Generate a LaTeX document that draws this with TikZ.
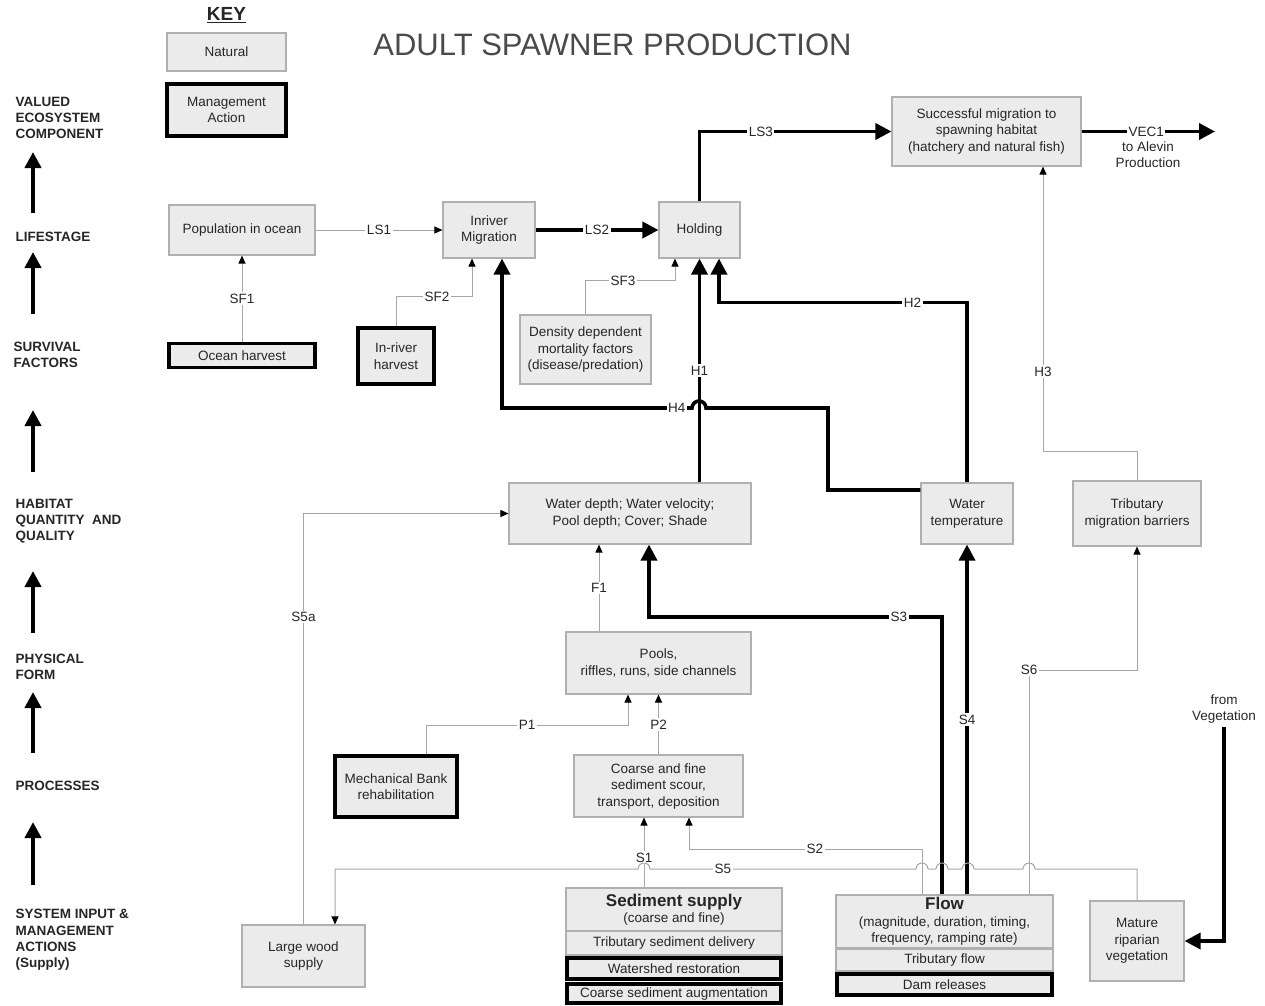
\documentclass[tikz,border=0pt]{standalone}
\usepackage{fontspec}
\setmainfont{Liberation Sans}
\usetikzlibrary{arrows.meta,calc}

\definecolor{boxfill}{HTML}{EBEBEB}
\definecolor{boxline}{HTML}{B0B0B0}
\definecolor{wiregray}{HTML}{A6A6A6}
\definecolor{ink}{HTML}{262626}
\definecolor{titleink}{HTML}{4A4A4A}
\newcommand{\boxfont}{\fontsize{13.5}{16.5}\selectfont}

\tikzset{
  box/.style={draw=boxline, fill=boxfill, line width=1.1pt, align=center,
              font=\boxfont, text=ink, inner sep=1pt},
  mbox/.style={box, draw=black, line width=3.2pt},
  linkthin/.style={draw=wiregray, line width=1pt,
                   -{Triangle[length=8pt,width=7pt,color=black]}},
  linkbold/.style={draw=black, line width=3.6pt,
                   -{Triangle[length=16pt,width=16pt]}},
  lbl/.style={fill=white, inner sep=1.5pt, font=\boxfont, text=ink},
  levelarrow/.style={draw=black, line width=4.2pt,
                     -{Triangle[length=16pt,width=16pt]}},
  levellbl/.style={anchor=west, align=left, text=ink,
                   font=\bfseries\fontsize{13.5}{16.3}\selectfont},
}

\begin{document}
\begin{tikzpicture}[x=1pt,y=-1pt]
\useasboundingbox (0,0) rectangle (1265,1005);

% ---------- title and key ----------
\node[font=\fontsize{31}{36}\selectfont, text=titleink] (title) at (612.5,45) {ADULT SPAWNER PRODUCTION};
\node[font=\bfseries\fontsize{19}{22}\selectfont, text=ink] (key) at (226.5,15) {\underline{KEY}};
\node[box, minimum width=119pt, minimum height=38pt] (keynat) at (226.5,52) {Natural};
\node[mbox, minimum width=119pt, minimum height=52pt] (keymgmt) at (226.5,110) {Management\\Action};

% ---------- level labels ----------
\node[levellbl] (lvvec)  at (12,118) {VALUED\\ECOSYSTEM\\COMPONENT};
\node[levellbl] (lvlife) at (12,237) {LIFESTAGE};
\node[levellbl] (lvsurv) at (10,355) {SURVIVAL\\FACTORS};
\node[levellbl] (lvhab)  at (12,521) {HABITAT\\QUANTITY~~AND\\QUALITY};
\node[levellbl] (lvphys) at (12,667) {PHYSICAL\\FORM};
\node[levellbl] (lvproc) at (12,786) {PROCESSES};
\node[levellbl] (lvsys)  at (12,940) {SYSTEM INPUT \&\\MANAGEMENT\\ACTIONS\\(Supply)};

\draw[levelarrow] (33,213) -- (33,152);
\draw[levelarrow] (33,314) -- (33,252);
\draw[levelarrow] (33,472) -- (33,410);
\draw[levelarrow] (33,633) -- (33,571);
\draw[levelarrow] (33,753) -- (33,692);
\draw[levelarrow] (33,885) -- (33,822);

% ---------- boxes ----------
\node[box,  minimum width=146pt, minimum height=50pt] (pop)    at (242,230)    {Population in ocean};
\node[mbox, minimum width=146pt, minimum height=24pt] (oharv)  at (242,355.5)  {Ocean harvest};
\node[box,  minimum width=92pt,  minimum height=56pt] (inriv)  at (489,230)    {Inriver\\Migration};
\node[mbox, minimum width=76pt,  minimum height=56pt] (irharv) at (396,356)    {In-river\\harvest};
\node[box,  minimum width=81pt,  minimum height=56pt] (hold)   at (699.5,230)  {Holding};
\node[box,  minimum width=131pt, minimum height=69pt] (dens)   at (585.5,349.5){Density dependent\\mortality factors\\(disease/predation)};
\node[box,  minimum width=189pt, minimum height=69pt] (succ)   at (986.5,131.5){Successful migration to\\spawning habitat\\(hatchery and natural fish)};
\node[box,  minimum width=242pt, minimum height=61pt] (wdepth) at (630,513.5)  {Water depth; Water velocity;\\Pool depth; Cover; Shade};
\node[box,  minimum width=92pt,  minimum height=61pt] (wtemp)  at (967,513.5)  {Water\\temperature};
\node[box,  minimum width=128pt, minimum height=65pt] (tribbar)at (1137,513.5) {Tributary\\migration barriers};
\node[box,  minimum width=185pt, minimum height=62pt] (pools)  at (658.5,663)  {Pools,\\riffles, runs, side channels};
\node[box,  minimum width=169pt, minimum height=62pt] (coarse) at (658.5,786)  {Coarse and fine\\sediment scour,\\transport, deposition};
\node[mbox, minimum width=122pt, minimum height=61pt] (mech)   at (396,786.5)  {Mechanical Bank\\rehabilitation};
\node[box,  minimum width=123pt, minimum height=62pt] (wood)   at (303.5,956)  {Large wood\\supply};
\node[box,  minimum width=94pt,  minimum height=80pt] (riparian) at (1137,941) {Mature\\riparian\\vegetation};

% sediment supply stack
\node[box,  minimum width=216pt, minimum height=43pt] (sedtop)    at (674,909.5)
  {{\bfseries\fontsize{17}{18}\selectfont Sediment supply}\\(coarse and fine)};
\node[box,  minimum width=216pt, minimum height=24pt] (sedtrib)   at (674,943)   {Tributary sediment delivery};
\node[mbox, minimum width=214pt, minimum height=21pt] (sedws)     at (674,968.5) {Watershed restoration};
\node[mbox, minimum width=214pt, minimum height=19pt] (sedcoarse) at (674,993.5) {Coarse sediment augmentation};

% flow stack
\node[box,  minimum width=217pt, minimum height=53pt] (flowtop)  at (944.5,921.5)
  {{\bfseries\fontsize{17}{18}\selectfont Flow}\\(magnitude, duration, timing,\\frequency, ramping rate)};
\node[box,  minimum width=217pt, minimum height=22pt] (flowtrib) at (944.5,960)   {Tributary flow};
\node[mbox, minimum width=215pt, minimum height=21pt] (flowdam)  at (944.5,984.5) {Dam releases};

% free-standing texts
\node[font=\boxfont, text=ink, align=center] (fromveg) at (1224,709) {from\\Vegetation};
\node[font=\boxfont, text=ink, align=center, anchor=north] (alevin) at (1148,138) {to Alevin\\Production};
\coordinate (vecend) at (1215,131.5);

% ---------- lifestage links ----------
\draw[linkthin] (pop.east) -- node[lbl]{LS1} (inriv.west);
\draw[linkbold] (inriv.east) -- node[lbl]{LS2} (hold.west);
\draw[linkbold] (hold.north) |- node[lbl,pos=0.66]{LS3} (succ.west);
\draw[linkbold] (succ.east) -- node[lbl,pos=0.485]{VEC1} (vecend);

% ---------- survival factors ----------
\draw[linkthin] (oharv.north) -- node[lbl]{SF1} (pop.south);
\draw[linkthin] (irharv.north) |- node[lbl,pos=0.77]{SF2} ([xshift=-17pt,yshift=-38pt]inriv.south)
                -- ([xshift=-17pt]inriv.south);
\draw[linkthin] (dens.north) |- node[lbl,pos=0.71]{SF3} ([xshift=-24.5pt,yshift=-22pt]hold.south)
                -- ([xshift=-24.5pt]hold.south);

% ---------- habitat links ----------
\draw[linkbold] (wdepth.north -| hold.south) -- node[lbl]{H1} (hold.south);
\draw[linkbold] (wtemp.north) |- node[lbl,pos=0.61]{H2} ([xshift=19.5pt,yshift=-44pt]hold.south)
                -- ([xshift=19.5pt]hold.south);
\draw[linkbold] ([yshift=23.5pt]wtemp.west) -- (828,490) -- (828,408) -- (706,408)
                arc[start angle=0,end angle=180,radius=7pt]
                -- node[lbl,pos=0.08]{H4} (502,408) -- ([xshift=13pt]inriv.south);
\draw[linkthin] (tribbar.north) |- ([xshift=56.5pt,yshift=-285pt]succ.south)
                -- node[lbl,pos=0.28]{H3} ([xshift=56.5pt]succ.south);

% ---------- physical form and processes ----------
\draw[linkthin] ([xshift=-59.5pt]pools.north) -- node[lbl]{F1} ([xshift=-59.5pt]pools.north |- wdepth.south);
\draw[linkthin] ([xshift=30pt]mech.north) |- node[lbl,pos=0.75]{P1} (628,725) -- ([xshift=-30.5pt]pools.south);
\draw[linkthin] (coarse.north) -- node[lbl]{P2} (pools.south);

% ---------- supply links ----------
\draw[linkthin] (wood.north) |- node[lbl,pos=0.374]{S5a} (wdepth.west);
\draw[linkbold] ([xshift=-2.5pt]flowtop.north) -- (942,617) -- node[lbl,pos=0.147]{S3} (649,617)
                -- ([xshift=19pt]wdepth.south);
\draw[linkbold] (flowtop.north -| wtemp.south) -- node[lbl]{S4} (wtemp.south);
\draw[linkthin] ([xshift=84.5pt]flowtop.north) |- node[lbl,pos=0.5]{S6} (1137,670) -- (tribbar.south);
\draw[linkthin] ([xshift=-30pt]sedtop.north) -- node[lbl,pos=0.43]{S1} ([xshift=-14.5pt]coarse.south);
\draw[linkthin] ([xshift=-22.5pt]flowtop.north) |- node[lbl,pos=0.73]{S2} (689,849)
                -- ([xshift=30.5pt]coarse.south);
\draw[linkthin] (riparian.north) -- (1137,869) -- (1035,869)
                arc[start angle=0,end angle=180,radius=6pt] -- (974,869)
                arc[start angle=0,end angle=180,radius=6pt] -- (948,869)
                arc[start angle=0,end angle=180,radius=6pt] -- (928,869)
                arc[start angle=0,end angle=180,radius=6pt]
                -- node[lbl,pos=0.726]{S5} (650,869)
                arc[start angle=0,end angle=180,radius=6pt] -- (335,869)
                -- ([xshift=31.5pt]wood.north);
\draw[linkbold] (fromveg.south) |- (riparian.east);

\end{tikzpicture}
\end{document}
